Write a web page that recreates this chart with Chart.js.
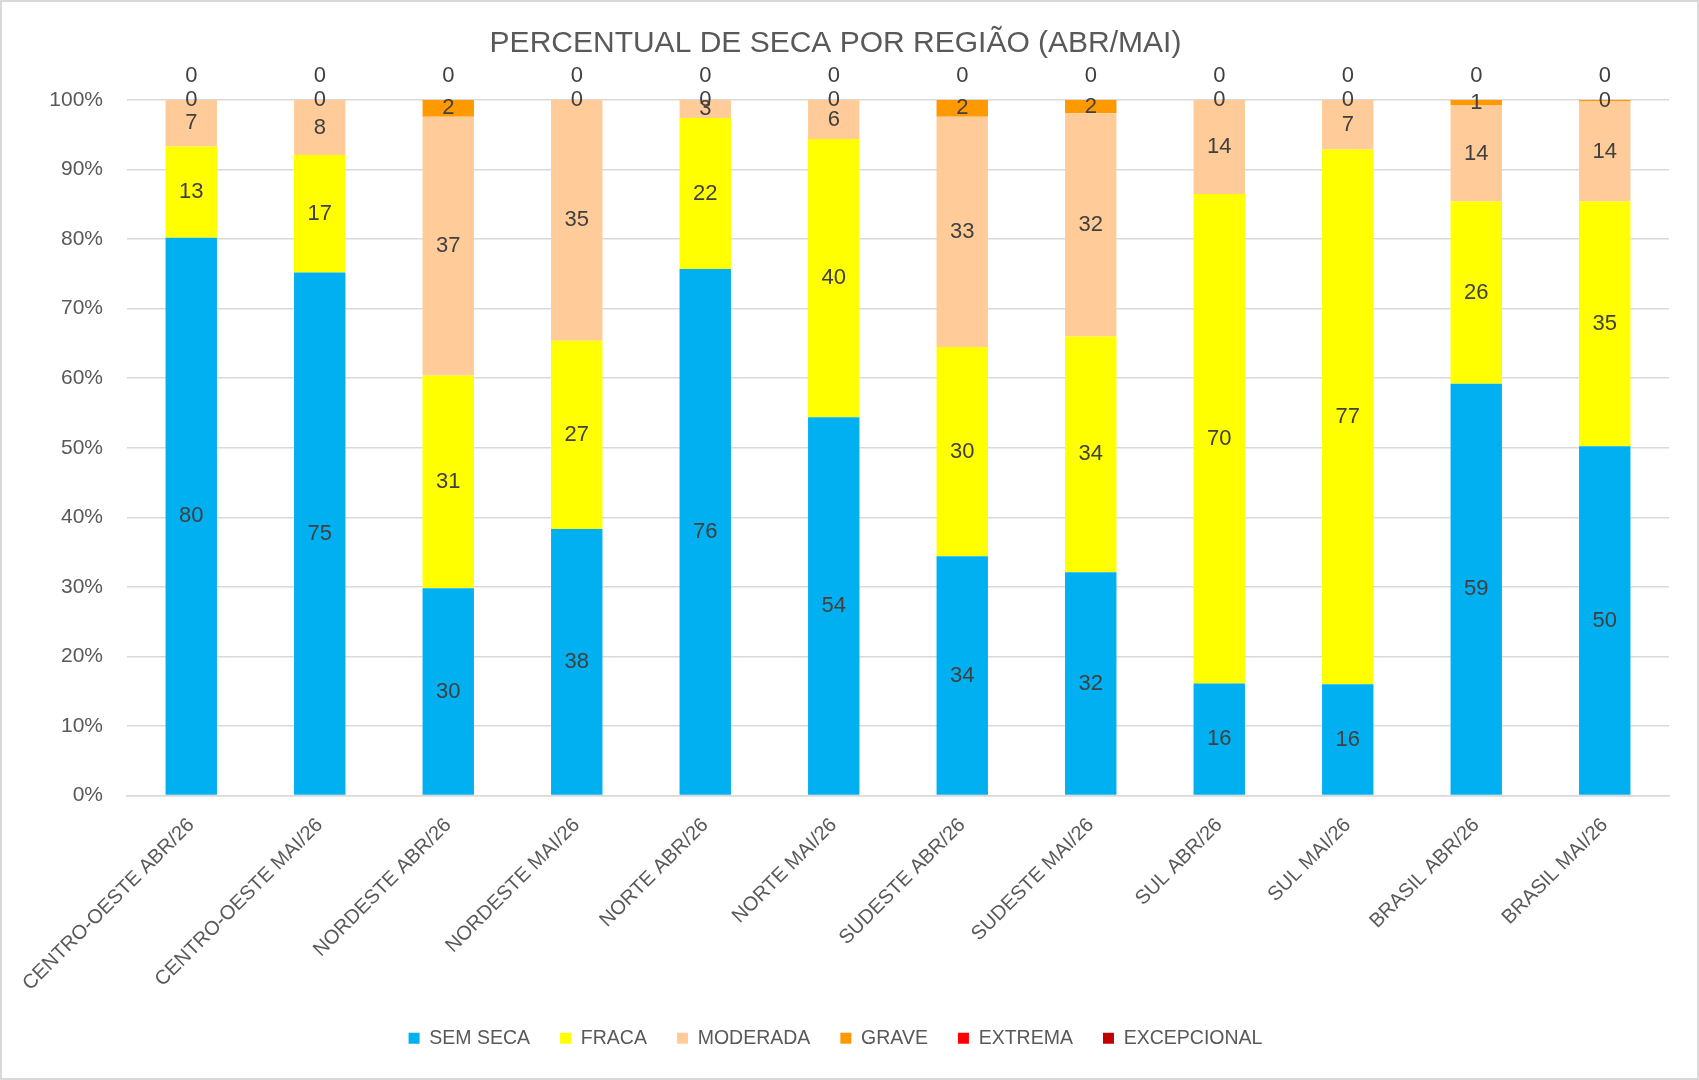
<!DOCTYPE html>
<html>
<head>
<meta charset="utf-8">
<script src="https://cdn.jsdelivr.net/npm/chart.js"></script>
<style>
html, body { margin: 0; padding: 0; background: #fff; }
.frame { position: absolute; left: 0; top: 0; width: 1699px; height: 1080px; box-sizing: border-box; border: 2px solid #d9d9d9; background: #fff; }
.frame canvas { display: block; }
</style>
</head>
<body>
<div class="frame"><canvas id="myChart" width="1695" height="1076"></canvas></div>
<script>
const categories = ['CENTRO-OESTE ABR/26', 'CENTRO-OESTE MAI/26', 'NORDESTE ABR/26', 'NORDESTE MAI/26', 'NORTE ABR/26', 'NORTE MAI/26',
    'SUDESTE ABR/26', 'SUDESTE MAI/26', 'SUL ABR/26', 'SUL MAI/26', 'BRASIL ABR/26', 'BRASIL MAI/26']

const sem_seca    = [80.2, 75.2, 29.8, 38.3, 75.7, 54.4, 34.4, 32.1, 16.1, 16.0, 59.2, 50.2]
const fraca       = [13.1, 16.9, 30.6, 27.1, 21.7, 40.0, 30.1, 33.9, 70.4, 76.9, 26.2, 35.2]
const moderada    = [6.7, 7.9, 37.2, 34.6, 2.6, 5.6, 33.1, 32.1, 13.5, 7.1, 13.8, 14.4]
const grave       = [0, 0, 2.4, 0, 0, 0, 2.4, 1.9, 0, 0, 0.8, 0.2]
const extrema     = [0, 0, 0, 0, 0, 0, 0, 0, 0, 0, 0, 0]
const excepcional = [0, 0, 0, 0, 0, 0, 0, 0, 0, 0, 0, 0]

const y_ticks = [0, 10, 20, 30, 40, 50, 60, 70, 80, 90, 100]

const font_family = '"Liberation Sans", Arial, sans-serif'

// numbers written in the middle of every piece of the stack
const value_labels = {
    id: 'value_labels',
    afterDatasetsDraw(chart) {
        const ctx = chart.ctx
        ctx.save()
        ctx.font = '22px ' + font_family
        ctx.fillStyle = '#404040'
        ctx.textAlign = 'center'
        ctx.textBaseline = 'middle'
        chart.data.datasets.forEach((ds, i) => {
            chart.getDatasetMeta(i).data.forEach((bar, j) => {
                const v = ds.data[j]
                // extrema and excepcional zeros sit on the same spot, write it once
                if (i == 5 && v == 0 && chart.data.datasets[4].data[j] == 0) return
                let y = (bar.y + bar.base) / 2
                if (v == 0 && i > 3) y = bar.y - 24
                ctx.fillText(Math.round(v), bar.x, y)
            })
        })
        ctx.restore()
    }
}

const ctx = document.getElementById('myChart')

new Chart(ctx, {
    type: 'bar',
    data: {
        labels: categories,
        datasets: [
            { label: 'SEM SECA', data: sem_seca, backgroundColor: '#00b0f0' },
            { label: 'FRACA', data: fraca, backgroundColor: '#ffff00' },
            { label: 'MODERADA', data: moderada, backgroundColor: '#ffcc99' },
            { label: 'GRAVE', data: grave, backgroundColor: '#ff9900' },
            { label: 'EXTREMA', data: extrema, backgroundColor: '#ff0000' },
            { label: 'EXCEPCIONAL', data: excepcional, backgroundColor: '#c00000' }
        ]
    },
    options: {
        responsive: false,
        animation: false,
        devicePixelRatio: 1,
        datasets: { bar: { categoryPercentage: 1, barPercentage: 0.4, borderWidth: 0 } },
        layout: { padding: { left: 0, right: 28, top: 0, bottom: 20 } },
        plugins: {
            title: {
                display: true,
                text: 'PERCENTUAL DE SECA POR REGIÃO (ABR/MAI)',
                color: '#595959',
                font: { family: font_family, size: 30, weight: 'normal' },
                padding: { top: 24, bottom: 38 }
            },
            legend: {
                position: 'bottom',
                labels: {
                    color: '#595959',
                    font: { family: font_family, size: 19.5 },
                    boxWidth: 11,
                    boxHeight: 11,
                    padding: 30
                }
            },
            tooltip: { enabled: false }
        },
        scales: {
            x: {
                stacked: true,
                grid: { display: false, drawTicks: false },
                border: { display: true, color: '#d9d9d9', width: 1.5 },
                ticks: {
                    color: '#595959',
                    font: { family: font_family, size: 20 },
                    maxRotation: 45,
                    minRotation: 45,
                    padding: 18,
                    autoSkip: false
                },
                afterFit: (scale) => { scale.height = 203 }
            },
            y: {
                stacked: true,
                min: 0,
                max: 100,
                grid: { color: '#d9d9d9', lineWidth: 1.5, drawTicks: false },
                border: { display: false },
                afterBuildTicks: (scale) => { scale.ticks = y_ticks.map(v => ({ value: v })) },
                ticks: {
                    color: '#595959',
                    font: { family: font_family, size: 21 },
                    padding: 24,
                    callback: (v) => v + '%'
                },
                afterFit: (scale) => { scale.width = 125 }
            }
        }
    },
    plugins: [value_labels]
})
</script>
</body>
</html>
